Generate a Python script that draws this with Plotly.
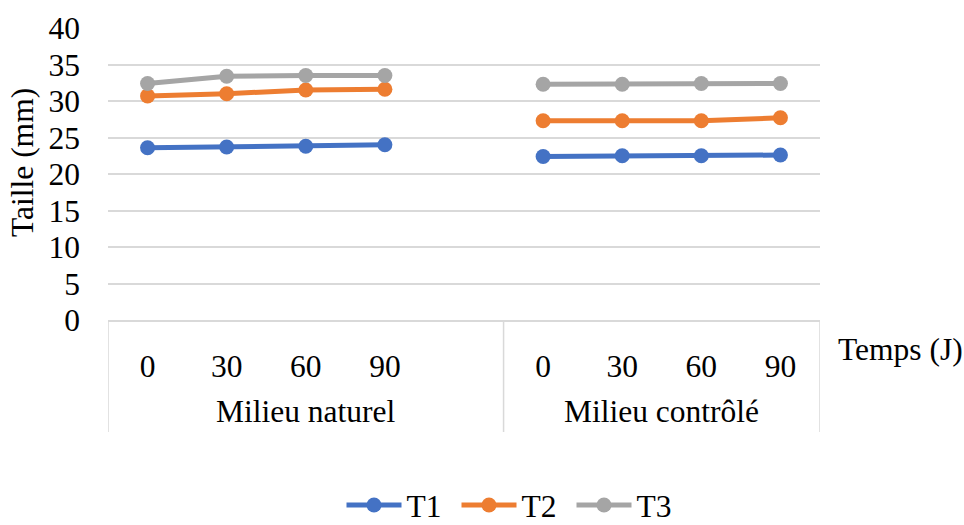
import plotly.graph_objects as go

groups = ["Milieu naturel", "Milieu contrôlé"]
times = ["0", "30", "60", "90"]
series_names = ["T1", "T2", "T3"]
t1_naturel = [23.6, 23.7, 23.8, 24.0]
t2_naturel = [30.7, 31.0, 31.5, 31.6]
t3_naturel = [32.4, 33.4, 33.5, 33.5]
t1_controle = [22.4, 22.5, 22.5, 22.6]
t2_controle = [27.3, 27.3, 27.3, 27.7]
t3_controle = [32.3, 32.3, 32.4, 32.4]
colors = ["#4472C4", "#ED7D31", "#A5A5A5"]

# slot positions: group 1 uses slots 0-3 (slot 4 empty), group 2 uses slots 5-8
pos_naturel = [0, 1, 2, 3]
pos_controle = [5, 6, 7, 8]

FONT = "'Liberation Serif', 'Times New Roman', serif"
FS = 31.5
fig = go.Figure()
data = [(t1_naturel, t1_controle), (t2_naturel, t2_controle), (t3_naturel, t3_controle)]
for name, (a, b), c in zip(series_names, data, colors):
    fig.add_trace(go.Scatter(
        x=pos_naturel + [4] + pos_controle, y=a + [None] + b,
        mode="lines+markers", name=name, connectgaps=False,
        line=dict(color=c, width=5),
        marker=dict(color=c, size=15),
    ))

L, R, T, B = 108, 144, 28, 205
W, H = 964, 525
ph = H - T - B
pw = W - L - R
below = lambda px: -(px - (H - B)) / ph  # paper y for pixel below plot bottom

shapes = []
for xv in [-0.5, 4.5, 8.5]:
    shapes.append(dict(type="line", xref="x", yref="paper", x0=xv, x1=xv,
                       y0=0, y1=below(432), line=dict(color="#D9D9D9", width=1.5)))

annotations = []
for g, cx in zip(groups, [2, 6.5]):
    annotations.append(dict(text=g, xref="x", yref="paper", x=cx, y=below(411),
                            showarrow=False, font=dict(size=FS, color="#000", family=FONT),
                            xanchor="center", yanchor="middle"))
annotations.append(dict(text="Temps (J)", xref="paper", yref="paper",
                        x=(900 - L) / pw, y=below(349), showarrow=False,
                        font=dict(size=FS, color="#000", family=FONT),
                        xanchor="center", yanchor="middle"))
annotations.append(dict(text="Taille (mm)", xref="paper", yref="paper",
                        x=(22 - L) / pw, y=(H - B - 163) / ph, textangle=-90,
                        showarrow=False, font=dict(size=FS, color="#000", family=FONT),
                        xanchor="center", yanchor="middle"))

fig.update_layout(
    width=W, height=H,
    margin=dict(l=L, r=R, t=T, b=B, autoexpand=False),
    plot_bgcolor="white", paper_bgcolor="white",
    font=dict(family=FONT, size=FS, color="#000"),
    xaxis=dict(range=[-0.5, 8.5], tickvals=pos_naturel + pos_controle,
               ticktext=times + times, showgrid=False, zeroline=False,
               showline=True, linecolor="#D9D9D9", linewidth=1.5,
               ticks="", ticklabelstandoff=17, tickfont=dict(size=FS, family=FONT)),
    yaxis=dict(range=[0, 40], dtick=5, showgrid=True, gridcolor="#D9D9D9",
               gridwidth=1.5, zeroline=False, showline=False, ticks="",
               ticklabelstandoff=27, tickfont=dict(size=FS, family=FONT)),
    showlegend=True,
    legend=dict(orientation="h", x=(514 - L) / pw, xanchor="center", y=below(505),
                yanchor="middle", font=dict(size=FS, family=FONT), itemwidth=55,
                entrywidth=45, bgcolor="rgba(0,0,0,0)"),
    shapes=shapes, annotations=annotations,
)
fig.write_html("out.html")
